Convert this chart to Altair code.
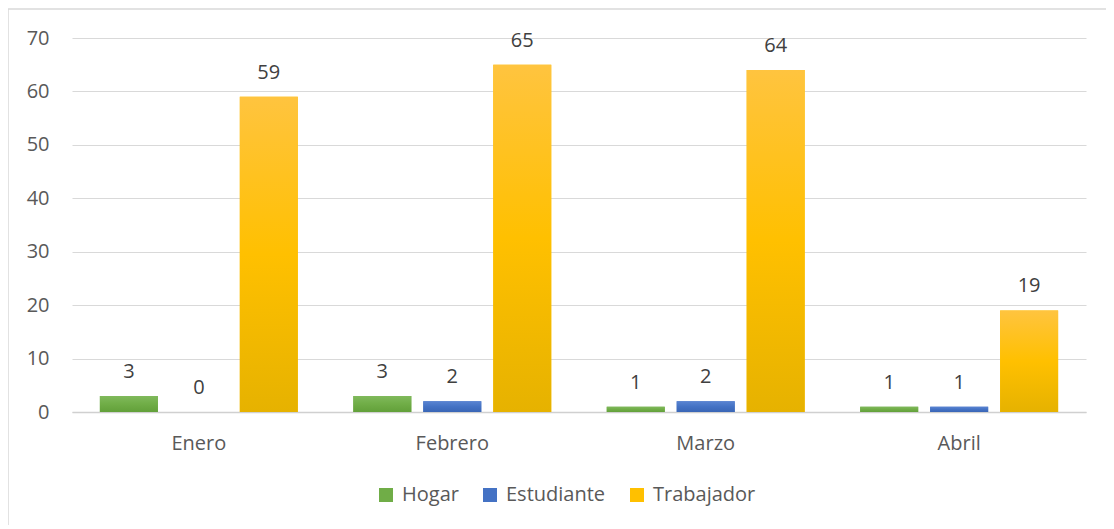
import altair as alt
import pandas as pd

months = ["Enero", "Febrero", "Marzo", "Abril"]
series = ["Hogar", "Estudiante", "Trabajador"]
hogar = [3, 3, 1, 1]
estudiante = [0, 2, 2, 1]
trabajador = [59, 65, 64, 19]
y_ticks = [0, 10, 20, 30, 40, 50, 60, 70]

solid = ["#70AD47", "#4472C4", "#FFC000"]
grad_stops = {
    "Hogar": ["#80B95C", "#70AD47", "#62A03A"],
    "Estudiante": ["#5A84D2", "#4472C4", "#3A66B6"],
    "Trabajador": ["#FFC43F", "#FFC000", "#E6B200"],
}

rows = []
for i, m in enumerate(months):
    for s, vals in zip(series, [hogar, estudiante, trabajador]):
        rows.append({"month": m, "series": s, "value": vals[i]})
df = pd.DataFrame(rows)

FONT = "Open Sans"
FS = 20
W, H = 1014, 374

x_enc = alt.X("month:N", sort=months, title=None,
              scale=alt.Scale(paddingInner=0.219, paddingOuter=0.11),
              axis=alt.Axis(labelAngle=0, labelFontSize=FS, labelColor="#595959",
                            labelFont=FONT, labelPadding=21, ticks=False,
                            domainColor="#D0D0D0", domainWidth=1.5, grid=False))
xo_enc = alt.XOffset("series:N", sort=series,
                     scale=alt.Scale(paddingInner=0.171, paddingOuter=0))
y_enc = alt.Y("value:Q", title=None,
              scale=alt.Scale(domain=[0, 70], nice=False),
              axis=alt.Axis(values=y_ticks, labelFontSize=FS, labelColor="#595959",
                            labelFont=FONT, labelPadding=23, ticks=False, domain=False,
                            gridColor="#D9D9D9", gridWidth=1))

base = alt.Chart(df)

border = alt.Chart(pd.DataFrame({"a": [0]})).mark_rect(
    filled=False, stroke="#D9D9D9", strokeWidth=1.5
).encode(x=alt.value(-64), x2=alt.value(1200), y=alt.value(-29), y2=alt.value(700))

bars = base.mark_bar().encode(
    x=x_enc, xOffset=xo_enc, y=y_enc,
    color=alt.Color("series:N", sort=series,
                    scale=alt.Scale(domain=series, range=solid),
                    legend=alt.Legend(title=None, orient="none", direction="horizontal",
                                      legendX=304, legendY=447, symbolType="square",
                                      symbolSize=196, symbolStrokeWidth=0,
                                      labelFontSize=FS, labelFont=FONT,
                                      labelColor="#595959", columnPadding=21,
                                      labelOffset=6)),
)

grad_layers = []
for s in series:
    c = grad_stops[s]
    grad = {"gradient": "linear", "x1": 0, "y1": 0, "x2": 0, "y2": 1,
            "stops": [{"offset": 0, "color": c[0]},
                      {"offset": 0.5, "color": c[1]},
                      {"offset": 1, "color": c[2]}]}
    grad_layers.append(
        base.transform_filter(alt.datum.series == s).mark_bar(color=grad).encode(
            x=x_enc, xOffset=xo_enc, y=y_enc)
    )

labels = base.mark_text(fontSize=FS, font=FONT, color="#404040",
                        baseline="alphabetic", dy=-18).encode(
    x=x_enc, xOffset=xo_enc, y=y_enc, text="value:Q")

chart = alt.layer(border, bars, *grad_layers, labels).properties(
    width=W, height=H,
    background="white",
    autosize=alt.AutoSizeParams(type="none"),
    padding={"left": 64, "top": 30, "right": 20, "bottom": 113},
).configure_view(stroke=None, strokeWidth=0)

chart.save("out.html", embed_options={"renderer": "svg", "actions": False})
